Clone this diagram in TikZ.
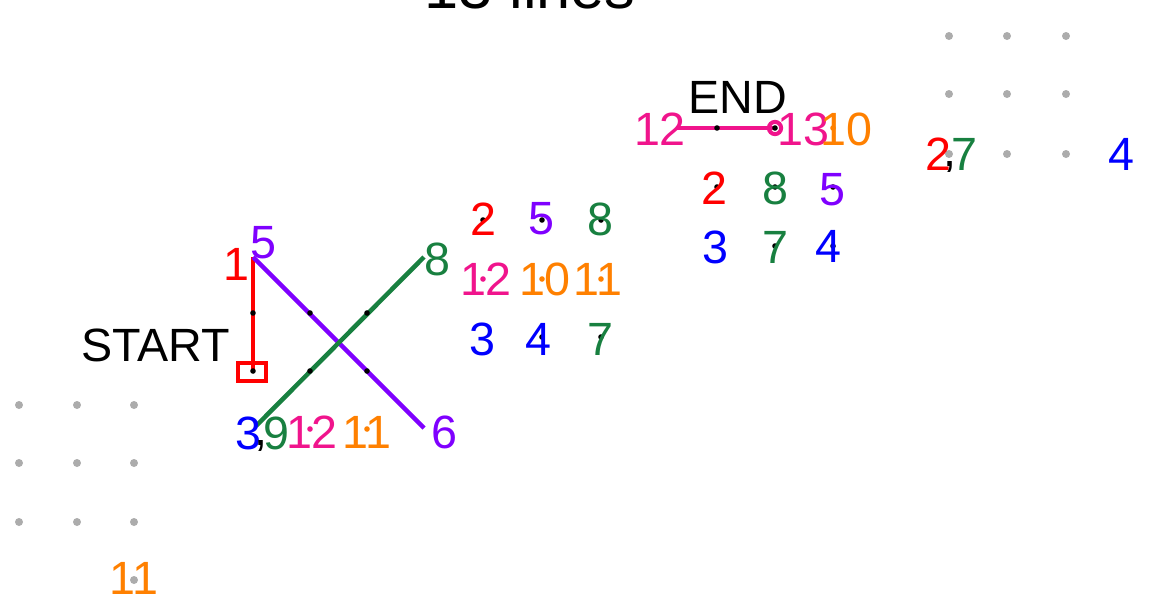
\documentclass[tikz,border=0pt]{standalone}
\usepackage{fontspec}
\setmainfont{Liberation Sans}
\definecolor{cred}{RGB}{255,0,0}
\definecolor{cpurple}{RGB}{127,0,255}
\definecolor{cgreen}{RGB}{24,128,64}
\definecolor{cblue}{RGB}{0,0,255}
\definecolor{cpink}{RGB}{240,20,140}
\definecolor{corange}{RGB}{255,128,0}
\definecolor{cgray}{RGB}{172,172,172}
\tikzset{
  lbl/.style={inner sep=0pt,font=\fontsize{35}{35}\selectfont},
  commalbl/.style={inner sep=0pt,anchor=base,font=\fontsize{35}{35}\selectfont},
  blackdot/.style={circle,fill=black,inner sep=0pt,minimum size=4.2pt},
  graydot/.style={circle,fill=cgray,inner sep=0pt,minimum size=6pt},
  colordot/.style={circle,fill=#1,inner sep=0pt,minimum size=4.2pt},
  seg/.style={line width=3.4pt,#1},
  outline/.style={line width=3pt,#1},
}
\begin{document}
\begin{tikzpicture}[x=0.75pt,y=-0.75pt]
\useasboundingbox (0,0) rectangle (1171,601);
% title
\node[anchor=base,inner sep=0pt,font=\fontsize{46}{46}\selectfont] (title) at (530,8) {13 lines};

% grey dot grids
\foreach \i/\x in {1/949,2/1007,3/1066}{
  \foreach \j/\y in {1/36,2/94,3/154}{
    \node[graydot] (gtr\i\j) at (\x,\y) {};
  }}
\foreach \i/\x in {1/19,2/77,3/134}{
  \foreach \j/\y in {1/405,2/463,3/522}{
    \node[graydot] (gbl\i\j) at (\x,\y) {};
  }}
\node[graydot] (gbl44) at (134,580) {};

% left grid coordinates
\coordinate (a1) at (253,257);
\coordinate (a2) at (253,313);
\coordinate (a3) at (253,371);
\coordinate (pa) at (253,257);
\coordinate (pb) at (310,313);
\coordinate (pc) at (367,371);
\coordinate (pd) at (424,428);
\coordinate (ga) at (256,426);
\coordinate (gb) at (310,371);
\coordinate (gc) at (367,313);
\coordinate (gd) at (424,257);

% lines
\draw[seg=cred] (a1) -- (a3);
\node[inner sep=0pt,minimum width=20pt,minimum height=13pt] (startbox) at (252,372) {};
\draw[outline=cred] (startbox.south west) rectangle (startbox.north east);
\draw[seg=cpurple] (pa) -- (pd);
\draw[seg=cgreen] (ga) -- (gd);
\node[blackdot] (d1) at (a2) {};
\node[blackdot] (d2) at (a3) {};
\node[blackdot] (d3) at (pb) {};
\node[blackdot] (d4) at (pc) {};
\node[blackdot] (d5) at (gb) {};
\node[blackdot] (d6) at (gc) {};

% left labels
\node[lbl,text=cred] (l1) at (236,264) {1};
\node[lbl,text=cpurple] (l5) at (263,243) {5};
\node[lbl] (start) at (156,345) {START};
\node[lbl,text=cgreen] (l8) at (437,259) {8};
\node[lbl,text=cpurple] (l6) at (444,432) {6};
\node[lbl,text=cblue] (l3) at (248,433) {3};
\node[commalbl] (lc1) at (261,445) {,};
\node[lbl,text=cgreen] (l9) at (276,433) {9};
\node[colordot=cpink] (d7) at (310,429) {};
\node[lbl,text=cpink] (l12a) at (312,432) {12};
\node[colordot=corange] (d8) at (367,429) {};
\node[lbl,text=corange] (l11a) at (367,432) {11};

% middle grid
\node[blackdot] (m1) at (483,220) {};
\node[blackdot] (m2) at (542,220) {};
\node[blackdot] (m3) at (601,220) {};
\node[colordot=cpink] (m4) at (483,279) {};
\node[colordot=corange] (m5) at (542,279) {};
\node[colordot=corange] (m6) at (601,279) {};
\node[blackdot] (m8) at (542,337) {};
\node[blackdot] (m9) at (601,337) {};
\node[lbl,text=cred] (n2) at (483,219) {2};
\node[lbl,text=cpurple] (n5) at (541,219) {5};
\node[lbl,text=cgreen] (n8) at (600,219) {8};
\node[lbl,text=cpink] (n12) at (486,279) {12};
\node[lbl,text=corange] (n10) at (545,279) {10};
\node[lbl,text=corange] (n11) at (598,279) {11};
\node[lbl,text=cblue] (n3) at (482,339) {3};
\node[lbl,text=cblue] (n4) at (538,339) {4};
\node[lbl,text=cgreen] (n7) at (600,339) {7};

% top grid
\coordinate (t1) at (676,128);
\coordinate (t2) at (717,128);
\coordinate (t3) at (775,128);
\draw[seg=cpink] (t1) -- (t3);
\node[circle,minimum size=9pt,inner sep=0pt] (endring) at (t3) {};
\draw[outline=cpink] (endring.center) circle[radius=4.6pt];
\node[blackdot] (e1) at (t2) {};
\node[blackdot] (e2) at (t3) {};
\node[colordot=corange] (e3) at (833,128) {};
\node[blackdot] (e4) at (717,187) {};
\node[blackdot] (e5) at (775,187) {};
\node[blackdot] (e6) at (833,187) {};
\node[blackdot] (e8) at (775,246) {};
\node[blackdot] (e9) at (833,246) {};
\node[lbl] (endlbl) at (738,97) {END};
\node[lbl,text=cpink] (o12) at (660,129) {12};
\node[lbl,text=cpink] (o13) at (803,129) {13};
\node[lbl,text=corange] (o10) at (846,129) {10};
\node[lbl,text=cred] (o2) at (714,188) {2};
\node[lbl,text=cgreen] (o8) at (775,188) {8};
\node[lbl,text=cpurple] (o5) at (832,190) {5};
\node[lbl,text=cblue] (o3) at (715,247) {3};
\node[lbl,text=cgreen] (o7) at (775,247) {7};
\node[lbl,text=cblue] (o4) at (828,246) {4};

% top right labels
\node[lbl,text=cred] (r2) at (938,154) {2};
\node[commalbl] (rc) at (950,166) {,};
\node[lbl,text=cgreen] (r7) at (964,154) {7};
\node[lbl,text=cblue] (r4) at (1121,154) {4};

% bottom left label
\node[lbl,text=corange] (b11) at (134,578) {11};
\end{tikzpicture}
\end{document}
